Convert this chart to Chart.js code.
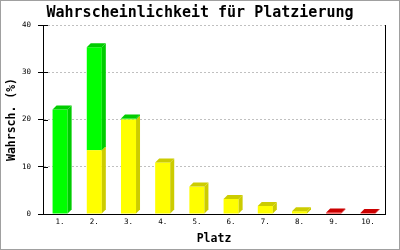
<!DOCTYPE html>
<html>
<head>
<meta charset="utf-8">
<script src="https://cdn.jsdelivr.net/npm/chart.js@4/dist/chart.umd.min.js"></script>
<style>
    html, body { margin: 0; padding: 0; background: #fff; }
    #wrap { width: 400px; height: 250px; }
</style>
</head>
<body>
<div id="wrap"><canvas id="platzChart" width="400" height="250"></canvas></div>
<script>
// Daten
const platzLabels = ['1.', '2.', '3.', '4.', '5.', '6.', '7.', '8.', '9.', '10.'];
const gelbWerte = [0, 13.5, 20.0, 10.9, 5.8, 3.2, 1.7, 0.6, 0, 0];
const rotWerte = [0, 0, 0, 0, 0, 0, 0, 0, 0.3, 0.2];
const gruenWerte = [22.1, 21.8, 0.2, 0, 0, 0, 0, 0, 0, 0];
const yTicks = [0, 10, 20, 30, 40];

const FONT = '"DejaVu Sans Mono", monospace';

// Zeichnet die 3D-Seiten und Deckflächen der Balken
const bar3d = {
    id: 'bar3d',
    afterDatasetsDraw(chart) {
        const ctx = chart.ctx;
        const dx = 4, dy = 4;
        ctx.save();
        platzLabels.forEach((_, i) => {
            let oben = null;
            chart.data.datasets.forEach((ds, di) => {
                if (!ds.data[i]) return;
                const el = chart.getDatasetMeta(di).data[i];
                const { x, y, base, width } = el.getProps(['x', 'y', 'base', 'width'], true);
                const r = x + width / 2;
                ctx.fillStyle = ds.sideColor;
                ctx.beginPath();
                ctx.moveTo(r, y);
                ctx.lineTo(r + dx, y - dy);
                ctx.lineTo(r + dx, base - dy);
                ctx.lineTo(r, base);
                ctx.closePath();
                ctx.fill();
                oben = { x, y, width, color: ds.sideColor };
            });
            if (oben) {
                const l = oben.x - oben.width / 2;
                const r = oben.x + oben.width / 2;
                ctx.fillStyle = oben.color;
                ctx.beginPath();
                ctx.moveTo(l, oben.y);
                ctx.lineTo(l + dx, oben.y - dy);
                ctx.lineTo(r + dx, oben.y - dy);
                ctx.lineTo(r, oben.y);
                ctx.closePath();
                ctx.fill();
            }
        });
        ctx.restore();
    },
    afterDraw(chart) {
        const ctx = chart.ctx;
        const a = chart.chartArea;
        ctx.save();
        // rechte Rahmenlinie
        ctx.strokeStyle = '#000';
        ctx.lineWidth = 1;
        ctx.beginPath();
        ctx.moveTo(Math.round(a.right) + 0.5, a.top);
        ctx.lineTo(Math.round(a.right) + 0.5, a.bottom);
        ctx.stroke();
        // Teilstriche ragen etwas in die Fläche hinein
        chart.scales.y.ticks.forEach(t => {
            const py = Math.round(chart.scales.y.getPixelForValue(t.value)) + 0.5;
            ctx.beginPath();
            ctx.moveTo(a.left, py);
            ctx.lineTo(a.left + 5, py);
            ctx.stroke();
        });
        // grauer Außenrahmen
        ctx.strokeStyle = '#a0a0a0';
        ctx.strokeRect(0.5, 0.5, chart.width - 1, chart.height - 1);
        ctx.restore();
    }
};

const ctx = document.getElementById('platzChart').getContext('2d');
new Chart(ctx, {
    type: 'bar',
    data: {
        labels: platzLabels,
        datasets: [
            { label: 'gelb', data: gelbWerte, backgroundColor: '#ffff00', sideColor: '#cccc00' },
            { label: 'rot', data: rotWerte, backgroundColor: '#ff0000', sideColor: '#cc0000' },
            { label: 'grün', data: gruenWerte, backgroundColor: '#00ff00', sideColor: '#00cc00' }
        ]
    },
    options: {
        responsive: false,
        animation: false,
        layout: { padding: 0 },
        datasets: {
            bar: { barPercentage: 0.44, categoryPercentage: 1, borderWidth: 0 }
        },
        plugins: {
            legend: { display: false },
            tooltip: { enabled: false },
            title: {
                display: true,
                text: 'Wahrscheinlichkeit für Platzierung',
                color: '#000',
                font: { family: FONT, size: 15, weight: 'bold', lineHeight: 1.2 },
                padding: { top: 4, bottom: 3 }
            }
        },
        scales: {
            x: {
                stacked: true,
                afterFit: (s) => { s.height = 36; },
                grid: { display: false, drawTicks: false },
                border: { display: true, color: '#000', width: 1 },
                ticks: { color: '#000', padding: 4, font: { family: FONT, size: 7.5 } },
                title: {
                    display: true,
                    text: 'Platz',
                    color: '#000',
                    font: { family: FONT, size: 11.5, weight: 'bold', lineHeight: 1.2 },
                    padding: { top: 0, bottom: 4 }
                }
            },
            y: {
                stacked: true,
                min: 0,
                max: 40,
                afterFit: (s) => { s.width = 43; },
                afterBuildTicks: (s) => { s.ticks = yTicks.map(v => ({ value: v })); },
                grid: { color: '#c0c0c0', tickColor: '#000', tickLength: 5, drawTicks: true },
                border: { display: true, color: '#000', width: 1, dash: [2, 2] },
                ticks: { color: '#000', padding: 7, font: { family: FONT, size: 7.5 } },
                title: {
                    display: true,
                    text: 'Wahrsch. (%)',
                    color: '#000',
                    font: { family: FONT, size: 11.5, weight: 'bold', lineHeight: 1.2 },
                    padding: { top: 5.6, bottom: 0 }
                }
            },
            // leere Achse rechts, hält nur den Rand frei
            rand: {
                type: 'linear',
                position: 'right',
                display: true,
                afterFit: (s) => { s.width = 15; },
                grid: { display: false, drawTicks: false },
                border: { display: false },
                ticks: { display: false }
            }
        }
    },
    plugins: [bar3d]
});
</script>
</body>
</html>
